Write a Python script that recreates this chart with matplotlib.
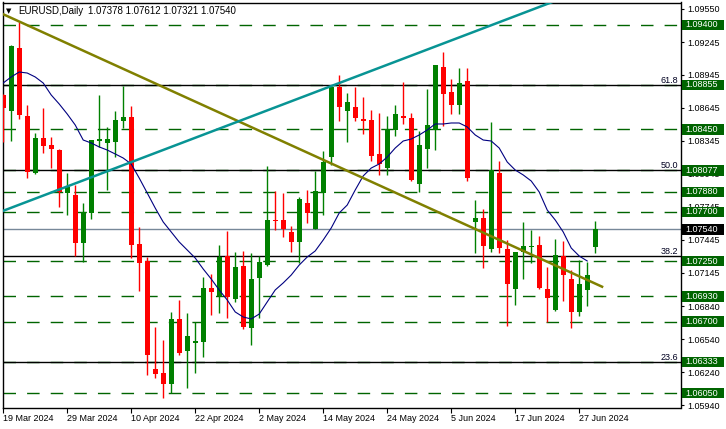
import matplotlib
matplotlib.use('Agg')
import matplotlib.pyplot as plt
import matplotlib.transforms as mtransforms
from matplotlib.patches import Rectangle

# ---------------- data ----------------
opens = [1.08763, 1.08617, 1.09191, 1.08572, 1.08053, 1.08371, 1.08308, 1.08262, 1.07871, 1.07853,
         1.07416, 1.07689, 1.08344, 1.08326, 1.08335, 1.08526, 1.08563, 1.07406, 1.07252, 1.06269,
         1.06232, 1.06132, 1.06724, 1.06432, 1.06505, 1.06514, 1.07006, 1.06933, 1.07297, 1.06906,
         1.07206, 1.06642, 1.07097, 1.07215, 1.07625, 1.07625, 1.07516, 1.07425, 1.07780, 1.07543,
         1.07871, 1.08198, 1.08836, 1.08617, 1.08654, 1.08544, 1.08535, 1.08226, 1.08098, 1.08444,
         1.08572, 1.08553, 1.07953, 1.08271, 1.08444, 1.09018, 1.08790, 1.08672, 1.08890, 1.07607,
         1.07643, 1.07361, 1.08053, 1.07361, 1.06997, 1.07334, 1.07379, 1.07397, 1.06997, 1.06806,
         1.07297, 1.07088, 1.06788, 1.06988, 1.07378]
highs = [1.08772, 1.09218, 1.09427, 1.08672, 1.08417, 1.08644, 1.08380, 1.08271, 1.08053, 1.07944,
         1.07780, 1.08353, 1.08763, 1.08472, 1.08617, 1.08845, 1.08663, 1.07561, 1.07288, 1.06651,
         1.06533, 1.06788, 1.06897, 1.06778, 1.06696, 1.07106, 1.07133, 1.07397, 1.07525, 1.07334,
         1.07343, 1.07325, 1.07297, 1.08116, 1.07889, 1.07871, 1.07570, 1.07834, 1.07898, 1.08071,
         1.08253, 1.08845, 1.08945, 1.08781, 1.08836, 1.08745, 1.08626, 1.08599, 1.08572, 1.08672,
         1.08881, 1.08599, 1.08435, 1.08817, 1.09036, 1.09154, 1.08908, 1.09009, 1.09009, 1.07807,
         1.07725, 1.08517, 1.08162, 1.07443, 1.07334, 1.07607, 1.07534, 1.07479, 1.07197, 1.07452,
         1.07434, 1.07170, 1.07261, 1.07243, 1.07612]
lows = [1.08335, 1.08344, 1.08544, 1.08007, 1.08044, 1.08235, 1.08098, 1.07743, 1.07670, 1.07297,
        1.07243, 1.07634, 1.08290, 1.07898, 1.08198, 1.08462, 1.07279, 1.06979, 1.06214, 1.06187,
        1.06005, 1.06050, 1.06396, 1.06096, 1.06232, 1.06378, 1.06760, 1.06778, 1.06733, 1.06879,
        1.06633, 1.06487, 1.06733, 1.07206, 1.07534, 1.07470, 1.07334, 1.07233, 1.07598, 1.07543,
        1.07670, 1.08126, 1.08526, 1.08335, 1.08526, 1.08408, 1.08162, 1.08035, 1.08035, 1.08390,
        1.08499, 1.07980, 1.07880, 1.08098, 1.08262, 1.08481, 1.08590, 1.08590, 1.07980, 1.07325,
        1.07188, 1.07334, 1.07325, 1.06660, 1.06851, 1.07088, 1.07233, 1.07000, 1.06696, 1.06800,
        1.06888, 1.06642, 1.06751, 1.06842, 1.07321]
closes = [1.08644, 1.09209, 1.08581, 1.08062, 1.08371, 1.08299, 1.08271, 1.07880, 1.07925, 1.07416,
          1.07698, 1.08353, 1.08362, 1.08362, 1.08535, 1.08563, 1.07397, 1.07233, 1.06396, 1.06223,
          1.06132, 1.06724, 1.06414, 1.06569, 1.06523, 1.07006, 1.06970, 1.07288, 1.06924, 1.07197,
          1.06651, 1.07088, 1.07243, 1.07625, 1.07616, 1.07543, 1.07425, 1.07816, 1.07689, 1.07889,
          1.08153, 1.08836, 1.08654, 1.08699, 1.08553, 1.08526, 1.08208, 1.08135, 1.08453, 1.08590,
          1.08553, 1.07989, 1.08308, 1.08490, 1.09036, 1.08772, 1.08672, 1.08872, 1.08007, 1.07643,
          1.07388, 1.08080, 1.07370, 1.07042, 1.07334, 1.07388, 1.07388, 1.07006, 1.06915, 1.07306,
          1.07124, 1.06788, 1.07042, 1.07124, 1.07540]
ma_values = [1.08872, 1.08927, 1.08972, 1.08963, 1.08927, 1.08872, 1.08763, 1.08681, 1.08590, 1.08490,
             1.08353, 1.08326, 1.08290, 1.08262, 1.08226, 1.08189, 1.08135, 1.08007, 1.07871, 1.07734,
             1.07607, 1.07516, 1.07425, 1.07352, 1.07279, 1.07179, 1.07088, 1.06988, 1.06897, 1.06788,
             1.06742, 1.06724, 1.06769, 1.06879, 1.06988, 1.07052, 1.07124, 1.07215, 1.07288, 1.07343,
             1.07443, 1.07552, 1.07689, 1.07761, 1.07898, 1.08026, 1.08098, 1.08135, 1.08198, 1.08280,
             1.08344, 1.08362, 1.08399, 1.08444, 1.08499, 1.08499, 1.08508, 1.08508, 1.08472, 1.08399,
             1.08353, 1.08344, 1.08280, 1.08153, 1.08080, 1.08035, 1.07980, 1.07880, 1.07716, 1.07625,
             1.07516, 1.07370, 1.07297, 1.07252]

date_tick_idx = [0, 8, 16, 24, 32, 40, 48, 56, 64, 72]
date_labels = ['19 Mar 2024', '29 Mar 2024', '10 Apr 2024', '22 Apr 2024', '2 May 2024',
               '14 May 2024', '24 May 2024', '5 Jun 2024', '17 Jun 2024', '27 Jun 2024']

level_values = [1.09400, 1.08855, 1.08450, 1.08077, 1.07880, 1.07700,
                1.07250, 1.06930, 1.06700, 1.06333, 1.06050]
fib_levels = [1.08855, 1.08077, 1.07299, 1.06333]
fib_labels = ['61.8', '50.0', '38.2', '23.6']
last_price = 1.07540
axis_ticks = [1.09550, 1.09245, 1.08945, 1.08645, 1.08345, 1.08045, 1.07745,
              1.07445, 1.07145, 1.06840, 1.06540, 1.06240, 1.05940]

olive_x = [-1, 75]
olive_y = [1.09531, 1.07013]
teal_x = [-1, 70]
teal_y = [1.07681, 1.09647]

symbol_text = 'EURUSD,Daily'
ohlc_text = '1.07378 1.07612 1.07321 1.07540'

# ---------------- figure ----------------
W, H = 726, 429
FONT = ['Liberation Sans', 'DejaVu Sans']
plt.rcParams['font.family'] = FONT

fig = plt.figure(figsize=(W / 100, H / 100), dpi=100)
fig.patch.set_facecolor('white')
ax = fig.add_axes([2.5 / W, (H - 408) / H, (680.5 - 2.5) / W, (408 - 2.5) / H])
ax.set_facecolor('white')

ymin, ymax = 1.059136, 1.096048
ax.set_ylim(ymin, ymax)
ax.set_xlim(-0.0875, 84.66)
px = (ymax - ymin) / 405.5  # price per pixel

blend = mtransforms.blended_transform_factory(ax.transAxes, ax.transData)

# horizontal support / resistance levels
for v in level_values:
    ax.axhline(v, color='#006400', lw=1.0, dashes=(9, 8), zorder=1)
# fibonacci lines
for v, lab in zip(fib_levels, fib_labels):
    ax.axhline(v, color='black', lw=1.0, zorder=1.5)
    ax.text(0.997, v + 2 * px, lab, transform=blend, ha='right', va='baseline',
            fontsize=6.5, color='#000020', zorder=6)
# current price line
ax.axhline(last_price, color='#778899', lw=1.0, zorder=1.2)

# candles
up_col, dn_col = '#008000', '#ff0000'
for i, (o, h, l, c) in enumerate(zip(opens, highs, lows, closes)):
    col = up_col if c >= o else dn_col
    ax.vlines(i, l, h, color=col, lw=1.0, zorder=3)
    bottom = min(o, c)
    height = max(abs(c - o), px * 1.0)
    ax.bar(i, height, bottom=bottom, width=0.625, color=col, edgecolor=col,
           linewidth=0, zorder=3.5)

# moving average
ax.plot(range(len(ma_values)), ma_values, color='#000080', lw=0.8, zorder=4)

# trend lines
ax.plot(olive_x, olive_y, color='#808000', lw=1.8, zorder=4.5, solid_capstyle='butt')
ax.plot(teal_x, teal_y, color='#089494', lw=1.8, zorder=4.5, solid_capstyle='butt')

# axes styling
for s in ax.spines.values():
    s.set_color('black')
    s.set_linewidth(1.0)

ax.yaxis.tick_right()
ax.set_yticks(axis_ticks)
ax.set_yticklabels(['%.5f' % t for t in axis_ticks])
ax.tick_params(axis='y', direction='out', length=2.5, width=0.8, pad=2.5,
               labelsize=6.5, colors='black')
ax.set_xticks(date_tick_idx)
ax.set_xticklabels(date_labels)
for lab in ax.get_xticklabels():
    lab.set_horizontalalignment('left')
ax.tick_params(axis='x', direction='out', length=3.5, width=0.8, pad=0.8,
               labelsize=6.5, colors='black')

# price label boxes on the right
box_h = 10.5 * px
box_x0 = 1.0 / 678 + 1.0
box_w = 42.5 / 678
for v in level_values:
    ax.add_patch(Rectangle((box_x0, v - box_h / 2), box_w, box_h, transform=blend,
                           facecolor='#006400', edgecolor='none', clip_on=False, zorder=10))
    ax.text(box_x0 + 4.0 / 678, v, '%.5f' % v, transform=blend, ha='left', va='center',
            fontsize=6.5, color='white', clip_on=False, zorder=11)
ax.add_patch(Rectangle((box_x0, last_price - box_h / 2), box_w, box_h, transform=blend,
                       facecolor='black', edgecolor='none', clip_on=False, zorder=10))
ax.text(box_x0 + 4.0 / 678, last_price, '%.5f' % last_price, transform=blend, ha='left',
        va='center', fontsize=6.5, color='white', clip_on=False, zorder=11)

# header
fig.text(5.5 / W, 1 - 11.5 / H, '\u25bc', fontsize=5, family=['DejaVu Sans'],
         ha='left', va='center', color='black')
fig.text(18 / W, 1 - 11 / H, symbol_text, fontsize=7, ha='left', va='center', color='black')
fig.text(88 / W, 1 - 11 / H, ohlc_text, fontsize=7, ha='left', va='center', color='black')

fig.savefig('out.png', dpi=100, facecolor='white')
